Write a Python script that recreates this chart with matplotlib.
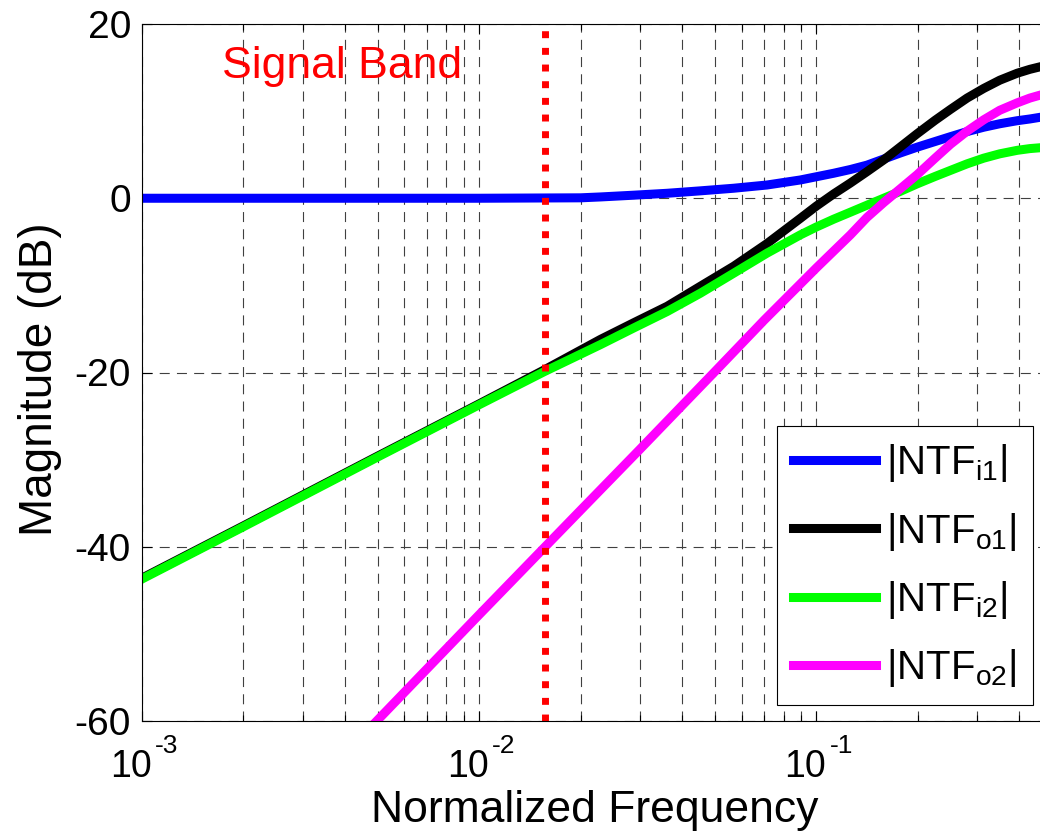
import matplotlib
matplotlib.use("Agg")
import matplotlib.pyplot as plt
from matplotlib.ticker import LogLocator, NullFormatter, FixedLocator

plt.rcParams["font.family"] = ["Liberation Sans", "DejaVu Sans"]
plt.rcParams["mathtext.fontset"] = "custom"
plt.rcParams["mathtext.rm"] = "Liberation Sans"
plt.rcParams["mathtext.it"] = "Liberation Sans"
plt.rcParams["axes.unicode_minus"] = False

# values (normalized frequency, dB)
ntf_i1_f = [1e-3, 0.01, 0.02, 0.0229, 0.0287, 0.0361, 0.0453, 0.0569, 0.0714,
            0.0897, 0.1126, 0.1262, 0.1413, 0.1584, 0.1776, 0.199, 0.25,
            0.28, 0.3135, 0.35, 0.3942, 0.43, 0.4624, 0.5]
ntf_i1_db = [0, 0, 0.05, 0.15, 0.35, 0.57, 0.85, 1.15, 1.52,
             2.1, 2.87, 3.3, 3.8, 4.5, 5.2, 5.86, 7.07,
             7.65, 8.15, 8.55, 8.9, 9.1, 9.3, 9.45]

ntf_o1_f = [1e-3, 2e-3, 5e-3, 0.01, 0.0156, 0.0229, 0.0287, 0.0361, 0.0453,
            0.0569, 0.0714, 0.0897, 0.1, 0.1126, 0.1262, 0.1413, 0.1584, 0.1776,
            0.199, 0.225, 0.25, 0.28, 0.3135, 0.35, 0.3942, 0.43, 0.4624, 0.5]
ntf_o1_db = [-43.6, -37.6, -29.6, -23.6, -19.7, -16.2, -14.3, -12.4, -10.1,
             -7.8, -5.2, -2.3, -0.9, 0.5, 1.75, 3.05, 4.4, 5.9,
             7.4, 8.95, 10.2, 11.5, 12.6, 13.55, 14.35, 14.8, 15.1, 15.35]

ntf_i2_f = [1e-3, 2e-3, 5e-3, 0.01, 0.0156, 0.0229, 0.0287, 0.0361, 0.0453,
            0.0569, 0.0714, 0.0897, 0.1, 0.1126, 0.1262, 0.1413, 0.1584, 0.1776,
            0.199, 0.225, 0.25, 0.28, 0.3135, 0.35, 0.3942, 0.43, 0.4624, 0.5]
ntf_i2_db = [-43.7, -37.7, -29.7, -23.7, -19.9, -16.8, -14.9, -13.0, -10.9,
             -8.6, -6.3, -4.2, -3.3, -2.4, -1.6, -0.8, 0.0, 0.8,
             1.65, 2.5, 3.2, 3.95, 4.6, 5.1, 5.5, 5.7, 5.8, 5.85]

ntf_o2_f = [0.0048, 0.01, 0.0156, 0.02, 0.03, 0.05, 0.07, 0.1, 0.1262,
            0.1413, 0.1584, 0.1776, 0.199, 0.225, 0.25, 0.28, 0.3135, 0.35,
            0.3942, 0.43, 0.4624, 0.5]
ntf_o2_db = [-60.6, -47.8, -40.1, -35.8, -28.8, -19.9, -14.0, -8.0, -4.2,
             -2.2, -0.5, 1.1, 2.7, 4.6, 6.2, 7.7, 9.0, 10.1,
             10.95, 11.5, 11.85, 12.2]

signal_band = 1 / 64
x_ticks = [1e-3, 1e-2, 1e-1]
x_exps = ["-3", "-2", "-1"]
y_ticks = [-60, -40, -20, 0, 20]

fig = plt.figure(figsize=(10.4, 8.35), dpi=100)
ax = fig.add_axes([142 / 1040, 1 - 721 / 835, 910 / 1040, 697 / 835])

lw = 6.5
ax.plot(ntf_i1_f, ntf_i1_db, color=(0, 0, 1), lw=lw, label=r"|NTF$_{\mathregular{i1}}$|")
ax.plot(ntf_o1_f, ntf_o1_db, color="black", lw=lw, label=r"|NTF$_{\mathregular{o1}}$|")
ax.plot(ntf_i2_f, ntf_i2_db, color=(0, 1, 0), lw=lw, label=r"|NTF$_{\mathregular{i2}}$|")
ax.plot(ntf_o2_f, ntf_o2_db, color=(1, 0, 1), lw=lw, label=r"|NTF$_{\mathregular{o2}}$|")

ax.axvline(signal_band, color="red", lw=5, linestyle=(0, (1, 1.4)))
ax.text(1.73e-3, 13.8, "Signal Band", color="red", fontsize=32, va="baseline")

ax.set_xscale("log")
ax.set_xlim(1e-3, 0.5)
ax.set_ylim(-60, 20)
ax.xaxis.set_major_locator(FixedLocator(x_ticks))
ax.xaxis.set_minor_locator(LogLocator(base=10, subs=range(2, 10)))
ax.xaxis.set_minor_formatter(NullFormatter())
ax.set_xticklabels([""] * len(x_ticks))
ax.set_yticks(y_ticks)
ax.set_yticklabels([str(v) for v in y_ticks])

# x tick labels drawn as "10" with a raised exponent, like the MATLAB original
for t, e in zip(x_ticks, x_exps):
    ax.annotate("10", xy=(t, 0), xycoords=("data", "axes fraction"),
                xytext=(7.2, -40.3), textcoords="offset points",
                fontsize=27, ha="right", va="baseline", annotation_clip=False)
    ax.annotate(e, xy=(t, 0), xycoords=("data", "axes fraction"),
                xytext=(9.4, -23), textcoords="offset points",
                fontsize=19, ha="left", va="baseline", annotation_clip=False)

ax.tick_params(which="both", direction="in", top=True, right=True, width=0.8)
ax.tick_params(which="major", length=7, labelsize=28)
ax.tick_params(axis="y", which="major", pad=8)
ax.tick_params(which="minor", length=4)

grid_kw = dict(color="0.25", lw=0.8, linestyle=(0, (9, 6.5)))
ax.grid(True, axis="x", which="both", **grid_kw)
ax.grid(True, axis="y", which="major", **grid_kw)

for s in ax.spines.values():
    s.set_linewidth(0.8)

ax.set_xlabel("Normalized Frequency", fontsize=32)
ax.xaxis.set_label_coords(0.4978, -0.099)
ax.set_ylabel("Magnitude (dB)", fontsize=33)
ax.yaxis.set_label_coords(-0.0879, 0.4907)

leg = ax.legend(loc="lower right", bbox_to_anchor=(1033 / 1040, 1 - 705 / 835),
                bbox_transform=fig.transFigure, borderaxespad=0,
                fontsize=29, handlelength=2.08, handletextpad=0.25,
                labelspacing=0.65, fancybox=False, framealpha=1,
                edgecolor="black", borderpad=0.4)
leg.get_frame().set_linewidth(0.8)

fig.savefig("out.png", dpi=100)
